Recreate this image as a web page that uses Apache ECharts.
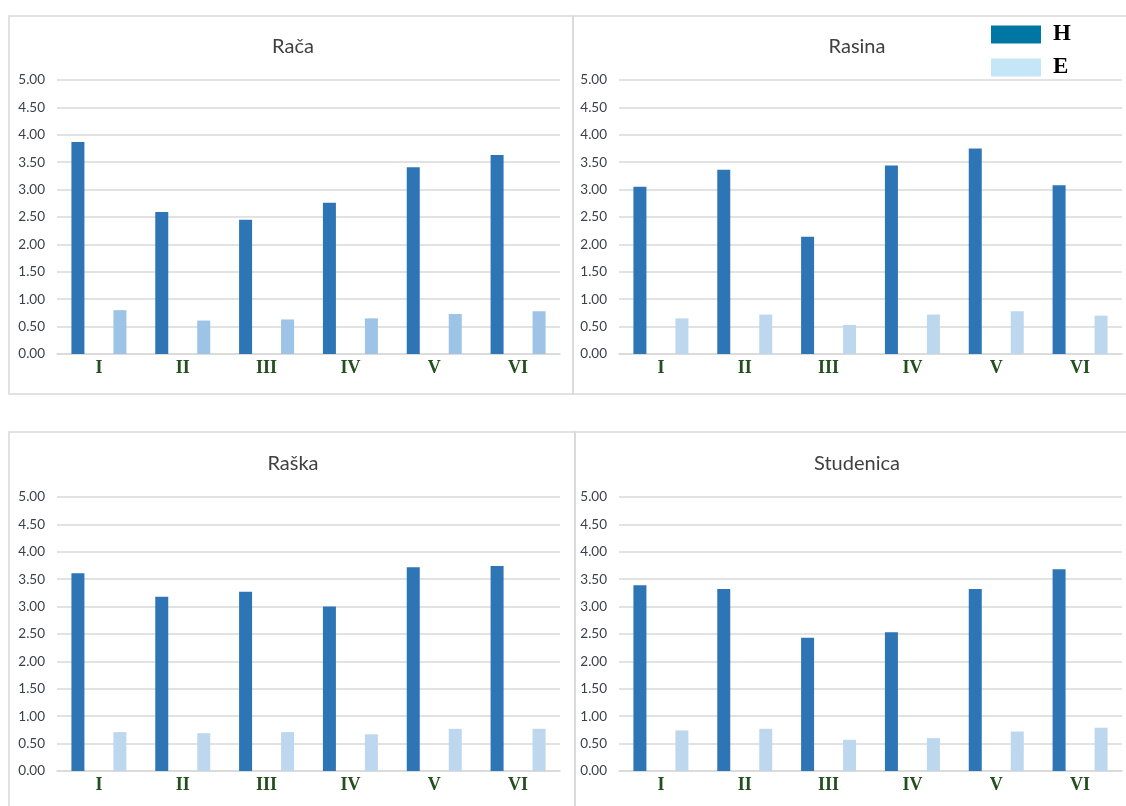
<!DOCTYPE html>
<html>
<head>
<meta charset="utf-8">
<script src="https://cdn.jsdelivr.net/npm/echarts@6/dist/echarts.min.js"></script>
<style>html,body{margin:0;padding:0;background:#fff}#c{width:1126px;height:806px}</style>
</head>
<body>
<div id="c"></div>
<script>
var categories = ['I', 'II', 'III', 'IV', 'V', 'VI'];
var panelTitles = ['Rača', 'Rasina', 'Raška', 'Studenica'];
var seriesNames = ['H', 'E'];
var racaH = [3.87, 2.59, 2.45, 2.76, 3.41, 3.63];
var racaE = [0.80, 0.61, 0.63, 0.65, 0.73, 0.78];
var rasinaH = [3.05, 3.36, 2.14, 3.44, 3.75, 3.08];
var rasinaE = [0.65, 0.72, 0.53, 0.72, 0.78, 0.70];
var raskaH = [3.61, 3.18, 3.27, 3.00, 3.72, 3.74];
var raskaE = [0.71, 0.69, 0.71, 0.67, 0.77, 0.77];
var studenicaH = [3.39, 3.32, 2.43, 2.53, 3.32, 3.68];
var studenicaE = [0.74, 0.77, 0.57, 0.60, 0.72, 0.79];
var yTicks = [0, 0.5, 1, 1.5, 2, 2.5, 3, 3.5, 4, 4.5, 5];

var dataH = [racaH, rasinaH, raskaH, studenicaH];
var dataE = [racaE, rasinaE, raskaE, studenicaE];

var colH = '#2E75B6';
var colE = ['#9DC3E6', '#BDD7EE', '#BDD7EE', '#BDD7EE'];

var grids = [
  {left: 57, top: 80, width: 503, height: 274},
  {left: 619, top: 80, width: 503, height: 274},
  {left: 57, top: 497, width: 503, height: 274},
  {left: 619, top: 497, width: 503, height: 274}
];
var titlePos = [
  {x: 293, y: 37}, {x: 857, y: 37}, {x: 293, y: 454}, {x: 857, y: 454}
];

var xAxes = [], yAxes = [], series = [], titles = [];
for (var i = 0; i < 4; i++) {
  titles.push({
    text: panelTitles[i], left: titlePos[i].x, top: titlePos[i].y, textAlign: 'center', padding: 0,
    textStyle: {fontFamily: 'Lato', fontSize: 20, fontWeight: 'normal', color: '#404040'}
  });
  xAxes.push({
    type: 'category', gridIndex: i, data: categories,
    axisLine: {lineStyle: {color: '#D9D9D9', width: 1.5}},
    axisTick: {show: false},
    axisLabel: {fontFamily: 'Liberation Serif', fontWeight: 'bold', fontSize: 18, color: '#234F1E', margin: 5}
  });
  yAxes.push({
    type: 'value', gridIndex: i, min: 0, max: 5, interval: 0.5,
    axisLine: {show: false}, axisTick: {show: false},
    splitLine: {lineStyle: {color: '#D9D9D9', width: 1.5}},
    axisLabel: {fontFamily: 'Lato', fontSize: 13.5, color: '#3A3F4A', margin: 12,
      formatter: function (v) { return v.toFixed(2); }}
  });
  series.push({
    name: seriesNames[0], type: 'bar', xAxisIndex: i, yAxisIndex: i, data: dataH[i],
    barWidth: 13, barGap: '223%', itemStyle: {color: colH}, animation: false
  });
  series.push({
    name: seriesNames[1], type: 'bar', xAxisIndex: i, yAxisIndex: i, data: dataE[i],
    barWidth: 13, barGap: '223%', itemStyle: {color: colE[i]}, animation: false
  });
}

function rectBorder(x, y, w, h) {
  return {type: 'rect', shape: {x: x, y: y, width: w, height: h}, z: -1,
    style: {fill: null, stroke: '#D9D9D9', lineWidth: 1.5}};
}

var chart = echarts.init(document.getElementById('c'), null, {renderer: 'canvas'});
chart.setOption({
  backgroundColor: '#fff',
  animation: false,
  title: titles,
  grid: grids,
  xAxis: xAxes,
  yAxis: yAxes,
  series: series,
  legend: {
    orient: 'vertical', left: 991, top: 23, padding: 0, itemWidth: 50, itemHeight: 18, itemGap: 10,
    icon: 'rect',
    data: [
      {name: 'H', itemStyle: {color: '#0076A3'}},
      {name: 'E', itemStyle: {color: '#C5E6F6'}}
    ],
    textStyle: {fontFamily: 'Liberation Serif', fontWeight: 'bold', fontSize: 23, color: '#000', padding: [0, 0, 0, 7]}
  },
  graphic: [
    rectBorder(9, 16, 564, 378),
    rectBorder(573, 16, 570, 378),
    rectBorder(9, 432, 566, 390),
    rectBorder(575, 432, 570, 390)
  ]
});
</script>
</body>
</html>
